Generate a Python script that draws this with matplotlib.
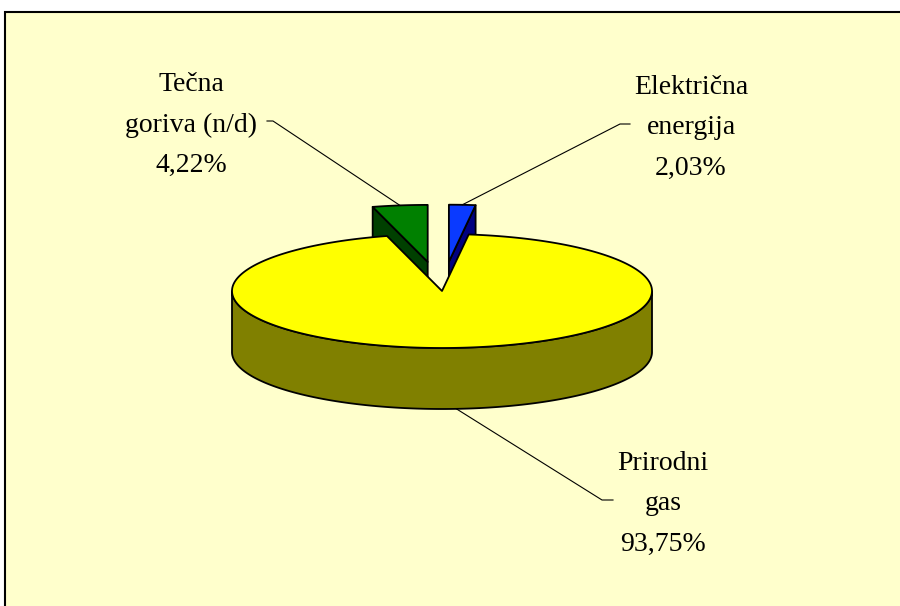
import numpy as np
import matplotlib.pyplot as plt

# data (Excel-style 3D pie, first slice starts at 12 o'clock, clockwise)
categories = ['Električna\nenergija', 'Prirodni\ngas', 'Tečna\ngoriva (n/d)']
shares = [2.03, 93.75, 4.22]
exploded = [True, False, True]

TOP_COLORS = ['#0a3aff', '#ffff00', '#008000']
SIDE_COLORS = ['#000080', '#808000', '#004000']
BG_COLOR = '#ffffcc'

# layout, in pixels
CX, CY = 442, 291
RX, RY = 210, 57
DEPTH = 61
EXPLODE = 0.515
LABEL_XY = [(691, 128), (663, 504), (191, 125)]
ELBOWS = [((630, 124), (620, 124)), ((613, 500), (602, 500)), ((267, 121), (273, 121))]

plt.rc('font', family=['Liberation Serif', 'DejaVu Serif'])


def ell(cx, cy, th, dz=0.0):
    th = np.radians(th)
    return cx + RX * np.cos(th), cy - RY * np.sin(th) + dz


def face(ax, xs, ys, color, z):
    ax.fill(xs, ys, fc=color, ec='black', lw=1.3, joinstyle='round', zorder=z)


fig = plt.figure(figsize=(9.0, 6.06), dpi=100)
ax = fig.add_axes([0, 0, 1, 1])
ax.set_xlim(0, 900)
ax.set_ylim(606, 0)
ax.axis('off')
ax.add_patch(plt.Rectangle((5, 12), 900, 600, fc=BG_COLOR, ec='black', lw=1.5, zorder=0))

total = sum(shares)
start = 90.0
slices = []
for i, v in enumerate(shares):
    hi = start
    lo = start - v / total * 360.0
    start = lo
    mid = (lo + hi) / 2
    cx, cy = CX, CY
    if exploded[i]:
        cx = CX + EXPLODE * RX * np.cos(np.radians(mid))
        cy = CY - EXPLODE * RY * np.sin(np.radians(mid))
    slices.append((i, lo, hi, mid, cx, cy))

# exploded slices sit behind the main body, draw them first
order = [s for s in slices if exploded[s[0]]] + [s for s in slices if not exploded[s[0]]]
z = 1
for i, lo, hi, mid, cx, cy in order:
    # radial cut faces turned to the viewer
    for th, visible in ((hi, np.cos(np.radians(hi)) < 0), (lo, np.cos(np.radians(lo)) > 0)):
        if visible:
            ox, oy = ell(cx, cy, th)
            face(ax, [cx, ox, ox, cx], [cy, oy, oy + DEPTH, cy + DEPTH], SIDE_COLORS[i], z)
            z += 1
    # outer wall, front part only
    th = np.linspace(lo, hi, 600)
    th = th[np.sin(np.radians(th)) < 0]
    if len(th):
        tx, ty = ell(cx, cy, th)
        bx, by = ell(cx, cy, th[::-1], DEPTH)
        face(ax, np.r_[tx, bx], np.r_[ty, by], SIDE_COLORS[i], z)
        z += 1
    # top face
    th = np.linspace(lo, hi, 600)
    tx, ty = ell(cx, cy, th)
    face(ax, np.r_[cx, tx], np.r_[cy, ty], TOP_COLORS[i], z)
    z += 1

# labels with leader lines
for i, lo, hi, mid, cx, cy in slices:
    front = np.sin(np.radians(mid)) < 0
    axx, axy = ell(cx, cy, mid, DEPTH if front else 0)
    (x0, y0), (x1, y1) = ELBOWS[i]
    ax.plot([x0, x1, axx], [y0, y1, axy], color='black', lw=0.8, zorder=50)
    pct = f'{shares[i]:.2f}%'.replace('.', ',')
    lx, ly = LABEL_XY[i]
    ax.text(lx, ly, categories[i] + '\n' + pct, ha='center', va='center',
            multialignment='center', fontsize=20, linespacing=1.8, zorder=60)

fig.savefig('out.png', dpi=100, facecolor='white')
